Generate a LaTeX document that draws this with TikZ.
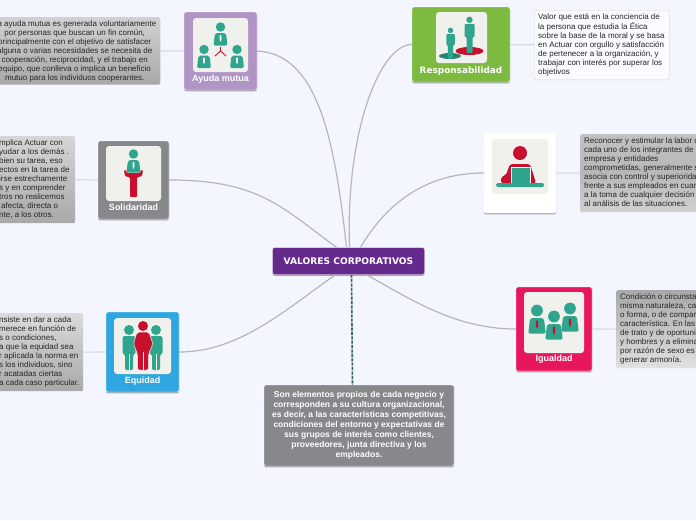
\documentclass[tikz,border=0pt]{standalone}
\usepackage{fontspec}
\setmainfont{Liberation Sans}
\newfontfamily\wideface{DejaVu Sans}
\usetikzlibrary{shadows}
\definecolor{mapBack}{RGB}{243, 246, 255}
\definecolor{mapLine}{RGB}{182, 182, 186}
\definecolor{mapStem}{RGB}{214, 217, 228}
\definecolor{mapDash}{RGB}{52, 104, 100}
\definecolor{mapPurple}{RGB}{102, 41, 140}
\definecolor{mapLilac}{RGB}{176, 148, 198}
\definecolor{mapGreen}{RGB}{124, 187, 63}
\definecolor{mapGray}{RGB}{135, 136, 139}
\definecolor{mapBlue}{RGB}{46, 167, 224}
\definecolor{mapPink}{RGB}{232, 23, 93}
\definecolor{iconBack}{RGB}{240, 240, 236}
\definecolor{iconTeal}{RGB}{47, 165, 142}
\definecolor{iconRed}{RGB}{200, 16, 46}
\newcommand{\Lineas}[2]{\makebox[#1][l]{\begin{tabular}{@{}l@{}}#2\end{tabular}}}
\tikzset{
  Valor/.style    = {draw=white, rounded corners=2pt, inner sep=0pt,
                     drop shadow={shadow xshift=0pt, shadow yshift=-1.4pt, fill=black!55, opacity=.6}},
  IconBox/.style  = {fill=iconBack, rounded corners=3pt, inner sep=0pt},
  Titulo/.style   = {text=white, inner sep=0pt, font=\fontsize{9}{10}\selectfont\bfseries},
  Nota/.style     = {rounded corners=2pt, inner xsep=4pt, inner ysep=3pt, align=left,
                     text=black!85, font=\fontsize{8}{9}\selectfont, anchor=north west},
  Rama/.style     = {line width=1.2pt, color=mapLine},
  Tallo/.style    = {line width=1.2pt, color=mapStem},
  Teal/.style     = {fill=iconTeal},
  Red/.style      = {fill=iconRed},
  pics/bust/.style = {code={
    \fill[Teal] (0,-6) circle (4.7);
    \fill[Teal, rounded corners=2pt] (-5.5,0) -- (5.5,0) -- (7,12.5) -- (-7,12.5) -- cycle;
    \fill[#1] (-.7,2) -- (.7,2) -- (1,6) -- (0,9) -- (-1,6) -- cycle;
  }},
  pics/standing/.style = {code={
    \fill[Teal] (0,-4.2) circle (3.2);
    \fill[Teal, rounded corners=1pt] (-5,0) -- (5,0) -- (5,13) -- (3,13) -- (3,29) -- (-3,29) -- (-3,13) -- (-5,13) -- cycle;
  }},
}
\begin{document}
\begin{tikzpicture}[x=1pt, y=-1pt]
  \useasboundingbox (0,0) rectangle (696,520);
  \fill[mapBack] (0,0) rectangle (696,520);

  % boxes of the map
  \node[Valor, fill=mapPurple, minimum width=152pt, minimum height=27pt,
        text=white, font=\wideface\fontsize{9.1}{10}\selectfont\bfseries] (central) at (348.5,261) {VALORES CORPORATIVOS};
  \node[Valor, fill=mapLilac, minimum width=73pt, minimum height=78pt] (ayuda) at (220.5,51) {};
  \node[Valor, fill=mapGreen, minimum width=98pt, minimum height=75pt] (respon) at (461,44.5) {};
  \node[Valor, fill=mapGray,  minimum width=71pt, minimum height=78pt] (solida) at (133.5,180) {};
  \node[Valor, fill=white,    minimum width=72pt, minimum height=80pt] (recono) at (520,173) {};
  \node[Valor, fill=mapBlue,  minimum width=73pt, minimum height=80pt] (equidad) at (142.5,352) {};
  \node[Valor, fill=mapPink,  minimum width=76pt, minimum height=84pt] (igual) at (554,329) {};
  \node[Valor, fill=mapGray, minimum width=190pt, minimum height=81pt, align=center, text=white,
        font=\fontsize{8.5}{10}\selectfont\bfseries] (elementos) at (359,425.5)
        {Son elementos propios de cada negocio y\\corresponden a su cultura organizacional,\\es decir, a las características competitivas,\\condiciones del entorno y expectativas de\\sus grupos de interés como clientes,\\proveedores, junta directiva y los\\empleados.};

  % notes
  \node[Nota, align=center, anchor=north east, top color=black!18, bottom color=black!34] (notaAyuda) at (160.5,17)
        {La ayuda mutua es generada voluntariamente\\por personas que buscan un fin común,\\principalmente con el objetivo  de satisfacer\\alguna o varias necesidades se necesita de\\cooperación, reciprocidad, y el trabajo en\\equipo, que conlleva o implica un beneficio\\mutuo para los individuos cooperantes.};
  \node[Nota, fill=white!60!mapBack, draw=black!18] (notaRespon) at (534,10)
        {\Lineas{127pt}{Valor que está en la conciencia de\\la persona que estudia la Ética\\sobre la base de la moral y se basa\\en Actuar con orgullo y satisfacción\\de pertenecer a la organización, y\\trabajar con interés por superar los\\objetivos}};
  \node[Nota, top color=black!16, bottom color=black!34, minimum height=86pt] (notaSolida) at (-5,136)
        {\Lineas{72pt}{mplica Actuar con\\yudar a los demás .\\bien su tarea, eso\\ectos en la tarea de\\irse estrechamente\\s y en comprender\\tros no realicemos\\\hspace*{2pt}afecta, directa o\\nte, a los otros.}};
  \node[Nota, top color=black!24, bottom color=black!18, middle color=black!28, minimum height=77pt] (notaRecono) at (580,134)
        {\Lineas{122pt}{Reconocer y estimular la labor d\\cada uno de los integrantes de l\\empresa y entidades\\comprometidas, generalmente s\\asocia con control y superioridad\\frente a sus empleados en cuan\\a la toma de cualquier decisión\\al análisis de las situaciones.}};
  \node[Nota, top color=black!14, bottom color=black!34, minimum height=77pt] (notaEquidad) at (-5,313)
        {\Lineas{80pt}{nsiste en dar a cada\\merece en función de\\s o condiciones,\\a que la equidad sea\\r aplicada la norma en\\s los individuos, sino\\r acatadas ciertas\\a cada caso particular.}};
  \node[Nota, top color=black!34, bottom color=black!12, minimum height=77pt] (notaIgual) at (616,290)
        {\Lineas{82pt}{Condición o circunsta\\misma naturaleza, ca\\o forma, o de compar\\característica. En las\\de trato y de oportuni\\y hombres y a elimina\\por razón de sexo es\\generar armonía.}};

  % icon plates and titles
  \node[IconBox, minimum width=55pt, minimum height=54pt] (iconAyuda) at (220.5,45) {};
  \node[IconBox, minimum width=51pt, minimum height=51pt] (iconRespon) at (461.5,37.5) {};
  \node[IconBox, minimum width=55pt, minimum height=55pt] (iconSolida) at (133.5,173.5) {};
  \node[IconBox, minimum width=56pt, minimum height=55pt] (iconRecono) at (520,166.5) {};
  \node[IconBox, minimum width=57pt, minimum height=56pt] (iconEquidad) at (142.5,346) {};
  \node[IconBox, minimum width=60pt, minimum height=61pt] (iconIgual) at (554,322.5) {};
  \node[Titulo] (tituloAyuda) at (220.5,79) {Ayuda mutua};
  \node[Titulo, font=\wideface\fontsize{8.9}{10}\selectfont\bfseries] (tituloRespon) at (461,71) {Responsabilidad};
  \node[Titulo] (tituloSolida) at (133.5,207.5) {Solidaridad};
  \node[Titulo] (tituloEquidad) at (142.5,381) {Equidad};
  \node[Titulo] (tituloIgual) at (554,359) {Igualdad};

  % connectors
  \draw[Rama] (ayuda.east) .. controls +(60,3) and +(-12,-110) .. ([xshift=-2pt]central.north);
  \draw[Rama] (respon.west) .. controls +(-32,0) and +(-4,-115) .. ([xshift=1pt]central.north);
  \draw[Rama] (solida.east) .. controls +(90,0) and +(-55,-40) .. ([xshift=-12pt]central.north);
  \draw[Rama] (recono.west) .. controls +(-60,0) and +(25,-42) .. ([xshift=12pt]central.north);
  \draw[Rama] (equidad.east) .. controls +(60,0) and +(-50,35) .. ([xshift=-13pt]central.south);
  \draw[Rama] (igual.west) .. controls +(-60,0) and +(45,25) .. ([xshift=18pt]central.south);
  \draw[line width=1.6pt, color=mapLine!60] ([xshift=3pt]central.south) -- ([xshift=-6.5pt]elementos.north);
  \draw[line width=1.6pt, color=mapDash, dash pattern=on 3pt off 1.4pt] ([xshift=3pt]central.south) -- ([xshift=-6.5pt]elementos.north);
  \draw[Tallo] (ayuda) -- (notaAyuda);
  \draw[Tallo] (respon) -- (notaRespon);
  \draw[Tallo] (solida) -- (notaSolida);
  \draw[Tallo] (recono) -- (notaRecono);
  \draw[Tallo] (equidad) -- (notaEquidad);
  \draw[Tallo] (igual) -- (notaIgual);

  % icons
  \pic at (220.5,33) {bust=white};
  \pic at (204,55.5) {bust=white};
  \pic at (237,55.5) {bust=white};
  \draw[iconRed, line width=.9pt] (220.5,51) -- (220.5,47) (220.5,51) -- (215,56) (220.5,51) -- (226,56);

  \fill[iconTeal!80!black] (450,56) ellipse (11 and 3);
  \fill[iconRed] (469.5,51) ellipse (14 and 4);
  \pic[scale=.85] at (450.5,34) {standing};
  \pic at (469.5,24) {standing};

  \pic at (133.5,160) {bust=white};
  \fill[iconRed, rounded corners=1pt] (124,170) -- (126,170) -- (127,173) -- (140,173) -- (141,170) -- (143,170) -- (142,176) -- (137,177.5) -- (137,197) -- (130,197) -- (130,177.5) -- (125,176) -- cycle;

  \fill[Red] (520,153) circle (7);
  \fill[Red, rounded corners=2pt] (510,164) -- (530,164) -- (536,183) -- (501,183) -- (501,177) -- (506,175) -- cycle;
  \fill[Teal, draw=white, line width=.6pt] (511,167.5) rectangle (530,183);
  \fill[Teal, rounded corners=1.5pt] (496,183) rectangle (544,187);

  \foreach \px in {129,156} {
    \fill[Teal] (\px,330) circle (5);
    \fill[Teal, rounded corners=1.5pt] (\px-6.5,336) -- (\px+6.5,336) -- (\px+6.5,354) -- (\px+4,354) -- (\px+4,370) -- (\px-4,370) -- (\px-4,354) -- (\px-6.5,354) -- cycle;
    \draw[iconBack, line width=.5pt] (\px,354) -- (\px,370);
  }
  \fill[Red] (143,326) circle (5);
  \fill[Red, draw=iconBack, line width=.5pt, rounded corners=2pt] (137,332) -- (149,332) -- (153,344) -- (148.5,354) -- (148.5,370) -- (137.5,370) -- (137.5,354) -- (133.5,344) -- cycle;
  \draw[iconBack, line width=.6pt] (143,352) -- (143,370);

  \pic[scale=1.25] at (537,318) {bust=iconRed};
  \pic[scale=1.25] at (570,316) {bust=iconRed};
  \pic[scale=1.25] at (554,324) {bust=iconRed};
\end{tikzpicture}
\end{document}
